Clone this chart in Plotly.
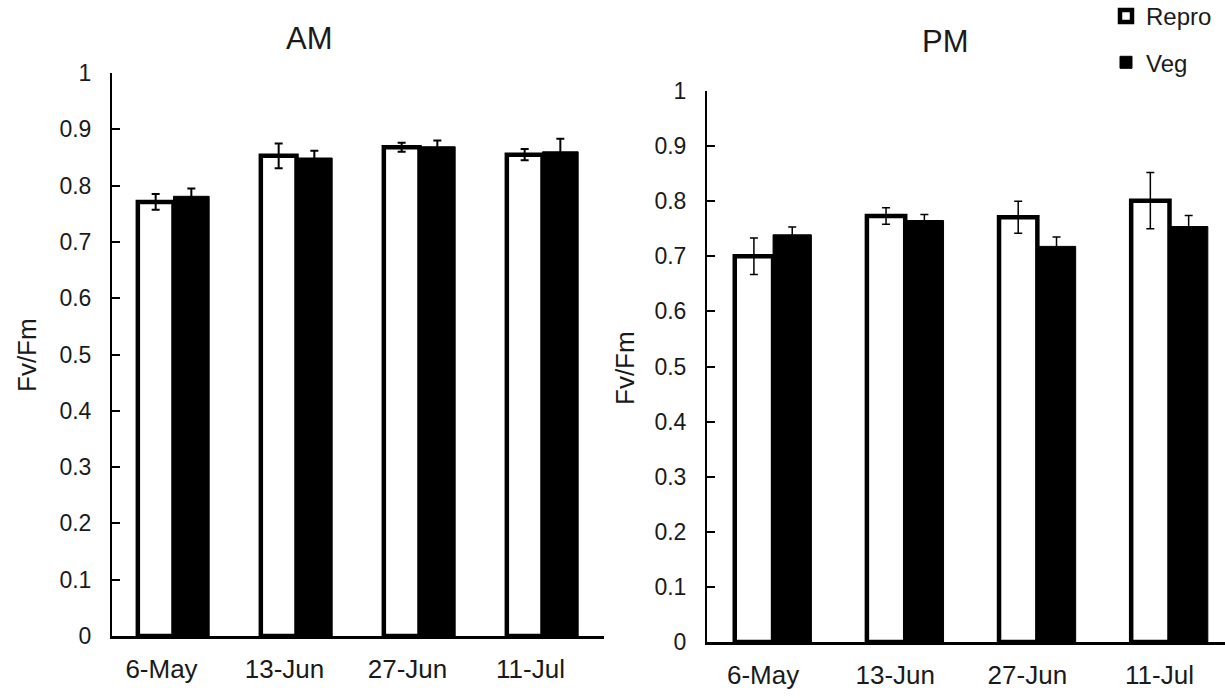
import plotly.graph_objects as go

dates = ["6-May", "13-Jun", "27-Jun", "11-Jul"]
y_ticks = [0, 0.1, 0.2, 0.3, 0.4, 0.5, 0.6, 0.7, 0.8, 0.9, 1]

am_repro = [0.771, 0.853, 0.868, 0.855]
am_repro_err = [0.014, 0.022, 0.008, 0.010]
am_veg = [0.781, 0.849, 0.869, 0.860]
am_veg_err = [0.014, 0.013, 0.011, 0.023]

pm_repro = [0.700, 0.773, 0.771, 0.801]
pm_repro_err = [0.033, 0.015, 0.029, 0.051]
pm_veg = [0.739, 0.765, 0.718, 0.754]
pm_veg_err = [0.014, 0.011, 0.017, 0.020]

FONT = "Liberation Sans, Arial, sans-serif"
TXT = "#1a1a1a"

fig = go.Figure()

def add_pair(repro, repro_err, veg, veg_err, xa, ya, show, eth):
    fig.add_trace(go.Bar(
        x=dates, y=repro, name="Repro", xaxis=xa, yaxis=ya,
        marker=dict(color="white", line=dict(color="black", width=4.5)),
        error_y=dict(type="data", array=repro_err, color="black", thickness=eth, width=4),
        showlegend=show, legendgroup="repro",
    ))
    fig.add_trace(go.Bar(
        x=dates, y=veg, name="Veg", xaxis=xa, yaxis=ya,
        marker=dict(color="black", line=dict(color="black", width=1)),
        error_y=dict(type="data", array=veg_err, color="black", thickness=eth, width=4),
        showlegend=show, legendgroup="veg",
    ))

add_pair(am_repro, am_repro_err, am_veg, am_veg_err, "x", "y", True, 2)
add_pair(pm_repro, pm_repro_err, pm_veg, pm_veg_err, "x2", "y2", False, 1.5)

yax_common = dict(
    range=[0, 1], tickvals=y_ticks, ticktext=[str(v) for v in y_ticks],
    ticks="inside", ticklen=8, tickwidth=2, tickcolor="black",
    showline=True, linecolor="black", linewidth=2, showgrid=False, zeroline=False,
    tickfont=dict(family=FONT, size=23, color=TXT), ticklabelstandoff=14,
    automargin=False,
)
xax_common = dict(
    type="category", showline=True, linecolor="black", linewidth=3,
    showgrid=False, zeroline=False, ticks="",
    tickfont=dict(family=FONT, size=26, color=TXT), ticklabelstandoff=8,
    automargin=False,
)

W, H = 1225, 698
fig.update_layout(
    width=W, height=H,
    margin=dict(l=0, r=0, t=0, b=0, autoexpand=False),
    paper_bgcolor="white", plot_bgcolor="white",
    barmode="group", bargap=0.42, bargroupgap=0,
    font=dict(family=FONT, color=TXT),
    xaxis=dict(domain=[112 / W, 604 / W], range=[-0.5, 3.5], anchor="y",
               ticklabelshift=-12, **xax_common),
    yaxis=dict(domain=[1 - 636 / H, 1 - 73 / H], anchor="x", **yax_common),
    xaxis2=dict(domain=[707 / W, 1.0], range=[-0.5, 3.42], anchor="y2",
                ticklabelshift=-10, **xax_common),
    yaxis2=dict(domain=[1 - 642 / H, 1 - 91 / H], anchor="x2", **yax_common),
    legend=dict(x=1106 / W, y=1 + 6 / H, xanchor="left", yanchor="top",
                font=dict(family=FONT, size=24, color=TXT),
                tracegroupgap=12, bgcolor="rgba(0,0,0,0)", itemwidth=30),
    annotations=[
        dict(text="AM", x=309 / W, y=1 - 38 / H, xref="paper", yref="paper",
             xanchor="center", yanchor="middle",
             showarrow=False, font=dict(family=FONT, size=31, color=TXT)),
        dict(text="PM", x=945 / W, y=1 - 42 / H, xref="paper", yref="paper",
             xanchor="center", yanchor="middle",
             showarrow=False, font=dict(family=FONT, size=31, color=TXT)),
        dict(text="Fv/Fm", x=27 / W, y=1 - 355 / H, xref="paper", yref="paper",
             xanchor="center", yanchor="middle",
             showarrow=False, textangle=-90, font=dict(family=FONT, size=26, color=TXT)),
        dict(text="Fv/Fm", x=625 / W, y=1 - 368 / H, xref="paper", yref="paper",
             xanchor="center", yanchor="middle",
             showarrow=False, textangle=-90, font=dict(family=FONT, size=26, color=TXT)),
    ],
)

fig.write_html("out.html")
